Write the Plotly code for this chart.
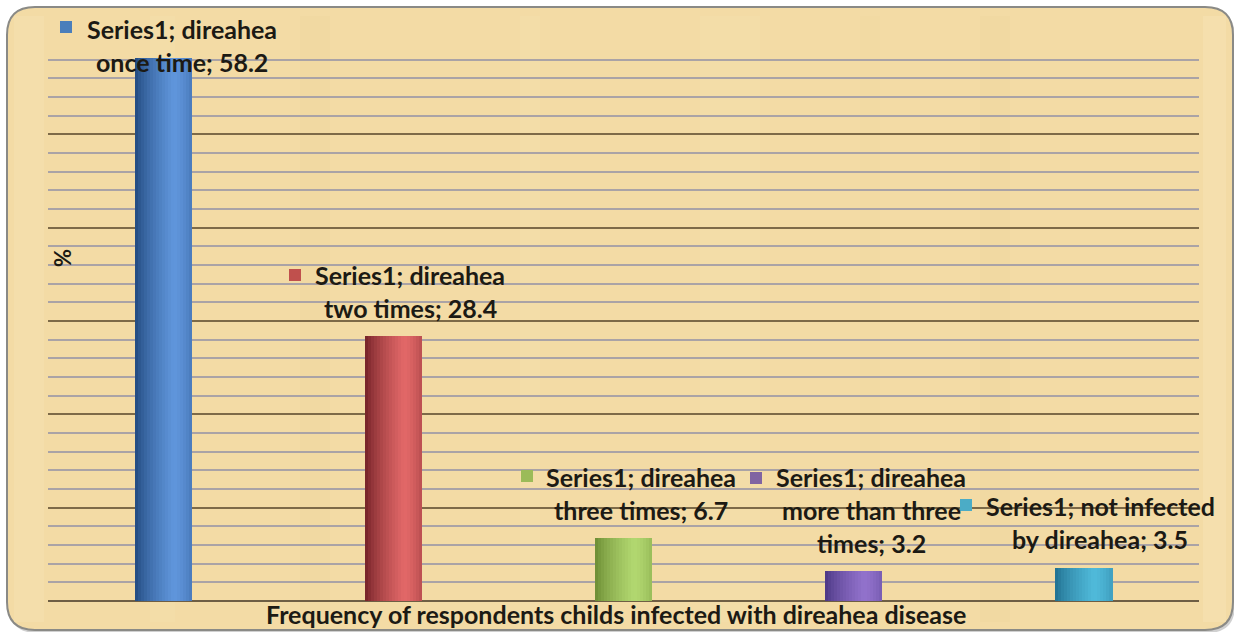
import textwrap
import plotly.graph_objects as go

# ---- data -------------------------------------------------------------
series_name = "Series1"
categories = [
    "direahea once time",
    "direahea two times",
    "direahea three times",
    "direahea more than three times",
    "not infected by direahea",
]
values = [58.2, 28.4, 6.7, 3.2, 3.5]

x_title = "Frequency of respondents childs infected with direahea disease"
y_title = "%"

# ---- styling ----------------------------------------------------------
W_PX, H_PX = 1234, 632
PLOT_L, PLOT_R, PLOT_T, PLOT_B = 48, 1199, 41, 601

# (dark edge, highlight) per bar for a cylindrical shading
bar_shades = [
    ((30, 70, 122), (96, 150, 220)),
    ((110, 30, 36), (226, 104, 104)),
    ((104, 136, 48), (178, 216, 112)),
    ((72, 52, 128), (146, 114, 204)),
    ((30, 108, 140), (80, 186, 218)),
]
key_colors = ["#4a7ebb", "#c0504d", "#9bbb59", "#8064a2", "#4bacc6"]

# label placement: centre x of text, y of first line, key square centre (pixels),
# and wrap width in characters
label_pos = [
    (182, 29, (66, 27), 21),
    (410, 275, (295, 275), 20),
    (641, 477, (527, 476), 21),
    (871, 477, (756, 478), 21),
    (1100, 506, (966, 505), 21),
]
LINE_GAP = 33
FONT = "Lato"
FONT_SIZE = 25
TEXT_COLOR = "#1c1a14"

BAR_WIDTH = 0.248
N_SLICES = 19


def px_x(p):
    return (p - PLOT_L) / (PLOT_R - PLOT_L)


def px_y(p):
    return (PLOT_B - p) / (PLOT_B - PLOT_T)


def mix(c0, c1, t):
    return "rgb(%d,%d,%d)" % tuple(round(a + (b - a) * t) for a, b in zip(c0, c1))


def shade_profile(u):
    # bright band a little right of centre, dark on the left edge
    if u < 0.68:
        return (u / 0.68) ** 0.7
    return 1.0 - 0.35 * ((u - 0.68) / 0.32) ** 1.5


fig = go.Figure()

xs = list(range(len(categories)))
slice_w = BAR_WIDTH / N_SLICES
for k in range(N_SLICES):
    u = (k + 0.5) / N_SLICES
    t = shade_profile(u)
    fig.add_trace(
        go.Bar(
            x=xs,
            y=values,
            width=[slice_w * 1.02] * len(xs),
            offset=[-BAR_WIDTH / 2 + k * slice_w] * len(xs),
            marker=dict(color=[mix(d, l, t) for d, l in bar_shades], line=dict(width=0)),
            hoverinfo="skip",
            showlegend=False,
        )
    )

# ---- background panel with rounded corners ----------------------------
def rounded_rect(x0, y0, x1, y1, r):
    X0, X1 = px_x(x0), px_x(x1)
    Y0, Y1 = px_y(y0), px_y(y1)
    rx = r / (PLOT_R - PLOT_L)
    ry = r / (PLOT_B - PLOT_T)
    return (
        f"M {X0 + rx} {Y0} L {X1 - rx} {Y0} Q {X1} {Y0} {X1} {Y0 - ry} "
        f"L {X1} {Y1 + ry} Q {X1} {Y1} {X1 - rx} {Y1} "
        f"L {X0 + rx} {Y1} Q {X0} {Y1} {X0} {Y1 + ry} "
        f"L {X0} {Y0 - ry} Q {X0} {Y0} {X0 + rx} {Y0} Z"
    )


shapes = [
    dict(type="path", xref="paper", yref="paper", layer="below",
         path=rounded_rect(9, 9, 1235, 633, 28),
         fillcolor="rgba(120,120,120,0.35)", line=dict(width=0)),
    dict(type="path", xref="paper", yref="paper", layer="below",
         path=rounded_rect(7, 7, 1233, 630, 28),
         fillcolor="#f3dba5", line=dict(color="#8a8a86", width=2)),
]

# papyrus fibres: faint lighter / darker vertical bands
bands = [(14, 44, "#f7e3b4"), (1203, 1226, "#f8e5b9"), (300, 330, "#f0d69f"),
         (700, 760, "#f5dfad"), (980, 1010, "#f0d7a0"), (520, 540, "#f5e0ad"),
         (150, 175, "#f5e0ac"), (860, 880, "#f1d9a2")]
for a, b, c in bands:
    shapes.append(dict(type="rect", xref="paper", yref="paper", layer="below",
                       x0=px_x(a), x1=px_x(b), y0=px_y(622), y1=px_y(16),
                       fillcolor=c, opacity=0.45, line=dict(width=0)))

# ---- data labels ------------------------------------------------------
annotations = []
for i, (cat, val) in enumerate(zip(categories, values)):
    text = f"{series_name}; {cat}; {val}"
    cx, y0, (sx, sy), wrap = label_pos[i]
    lines = textwrap.wrap(text, width=wrap)
    for j, line in enumerate(lines):
        annotations.append(dict(
            xref="paper", yref="paper", x=px_x(cx), y=px_y(y0 + j * LINE_GAP),
            text=f"<b>{line}</b>", showarrow=False, xanchor="center", yanchor="middle",
            font=dict(family=FONT, size=FONT_SIZE, color=TEXT_COLOR),
        ))
    shapes.append(dict(type="rect", xref="paper", yref="paper",
                       x0=px_x(sx - 6), x1=px_x(sx + 6), y0=px_y(sy + 6), y1=px_y(sy - 6),
                       fillcolor=key_colors[i], line=dict(width=0)))

annotations.append(dict(
    xref="paper", yref="paper", x=px_x(616), y=px_y(614),
    text=f"<b>{x_title}</b>", showarrow=False, xanchor="center", yanchor="middle",
    font=dict(family=FONT, size=FONT_SIZE, color=TEXT_COLOR),
))
annotations.append(dict(
    xref="paper", yref="paper", x=px_x(62), y=px_y(258),
    text=f"<b>{y_title}</b>", showarrow=False, textangle=-90,
    xanchor="center", yanchor="middle",
    font=dict(family=FONT, size=FONT_SIZE - 3, color=TEXT_COLOR),
))

fig.update_layout(
    width=W_PX, height=H_PX,
    margin=dict(l=PLOT_L, r=W_PX - PLOT_R, t=PLOT_T, b=H_PX - PLOT_B, pad=0),
    paper_bgcolor="white", plot_bgcolor="rgba(0,0,0,0)",
    barmode="overlay", bargap=0,
    showlegend=False,
    shapes=shapes, annotations=annotations,
    xaxis=dict(range=[-0.5, len(categories) - 0.5], showticklabels=False,
               showgrid=False, zeroline=False, ticks="", fixedrange=True),
    yaxis=dict(range=[0, 60], dtick=10, showticklabels=False, ticks="",
               showgrid=True, gridcolor="#7d6a48", gridwidth=2,
               zeroline=True, zerolinecolor="#6e5e44", zerolinewidth=2,
               minor=dict(dtick=2, showgrid=True, gridcolor="#aaa3a6", gridwidth=2),
               fixedrange=True),
)

fig.write_html("out.html", config={"displayModeBar": False})
